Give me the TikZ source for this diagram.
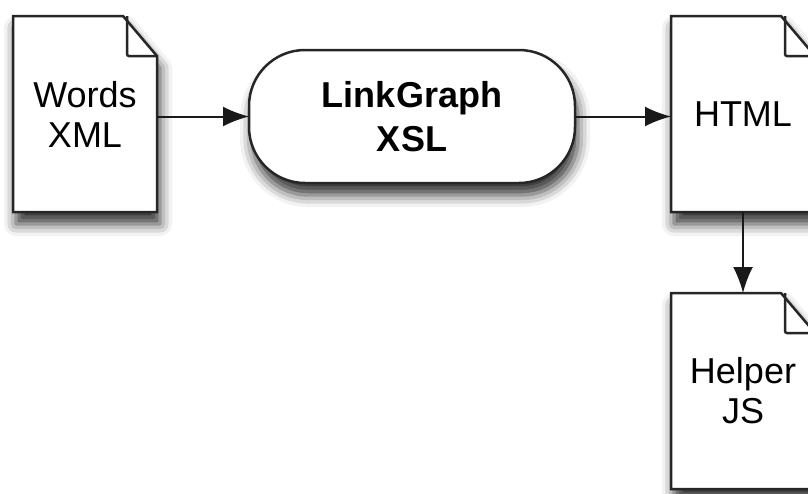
\documentclass[tikz,border=0pt]{standalone}
\usepackage{fontspec}
\setmainfont{Liberation Sans}
\usetikzlibrary{positioning,arrows.meta,backgrounds,shadows.blur}
\begin{document}
\begin{tikzpicture}[x=1pt, y=-1pt]
	\tikzstyle{doc} = [ rectangle, minimum width=144pt, minimum height=196pt, outer sep=0pt, align=center, font={\fontsize{36}{40}\selectfont}];
	\tikzstyle{xform} = [ draw=black!85, line width=2.5pt, fill=white, rectangle, rounded corners=56pt, minimum width=326pt, minimum height=133pt, outer sep=0pt, align=center, font={\bfseries\fontsize{36}{44}\selectfont}, blur shadow={shadow xshift=3pt, shadow yshift=-12pt, shadow blur radius=12pt, shadow opacity=80}];
	\tikzstyle{page} = [ draw=black!85, line width=2.5pt, fill=white, blur shadow={shadow xshift=3pt, shadow yshift=-12pt, shadow blur radius=12pt, shadow opacity=80}];
	\tikzstyle{fold} = [ draw=black!85, line width=2.5pt, rounded corners=2pt];
	\tikzstyle{flow} = [ draw=black!90, line width=2pt, -{Latex[length=26pt, width=20pt]}];

	\useasboundingbox (0,0) rectangle (808,493);

	\node[doc] (words) at (85,114) {Words\\XML};
	\node[xform, right=92pt of words.east, anchor=west, yshift=-2.5pt] (link) {LinkGraph\\XSL};
	\node[doc, right=96pt of link.east, anchor=west, yshift=2.5pt] (html) {HTML};
	\node[doc, below=81pt of html] (helper) {Helper\\JS};

	\begin{scope}[on background layer]
		\foreach \d in {words,html,helper} {
			\draw[page] (\d.north west) -- ([xshift=-34pt]\d.north east) -- ([yshift=-40pt]\d.north east) -- (\d.south east) -- (\d.south west) -- cycle;
			\draw[fold] ([xshift=-30pt]\d.north east) -- ([xshift=-30pt, yshift=-40pt]\d.north east) -- ([yshift=-40pt]\d.north east);
		}
	\end{scope}

	\draw[flow] (words.east |- link.west) -- (link.west);
	\draw[flow] (link.east) -- (html.west |- link.east);
	\draw[flow] (html) -- (helper);
\end{tikzpicture}
\end{document}
